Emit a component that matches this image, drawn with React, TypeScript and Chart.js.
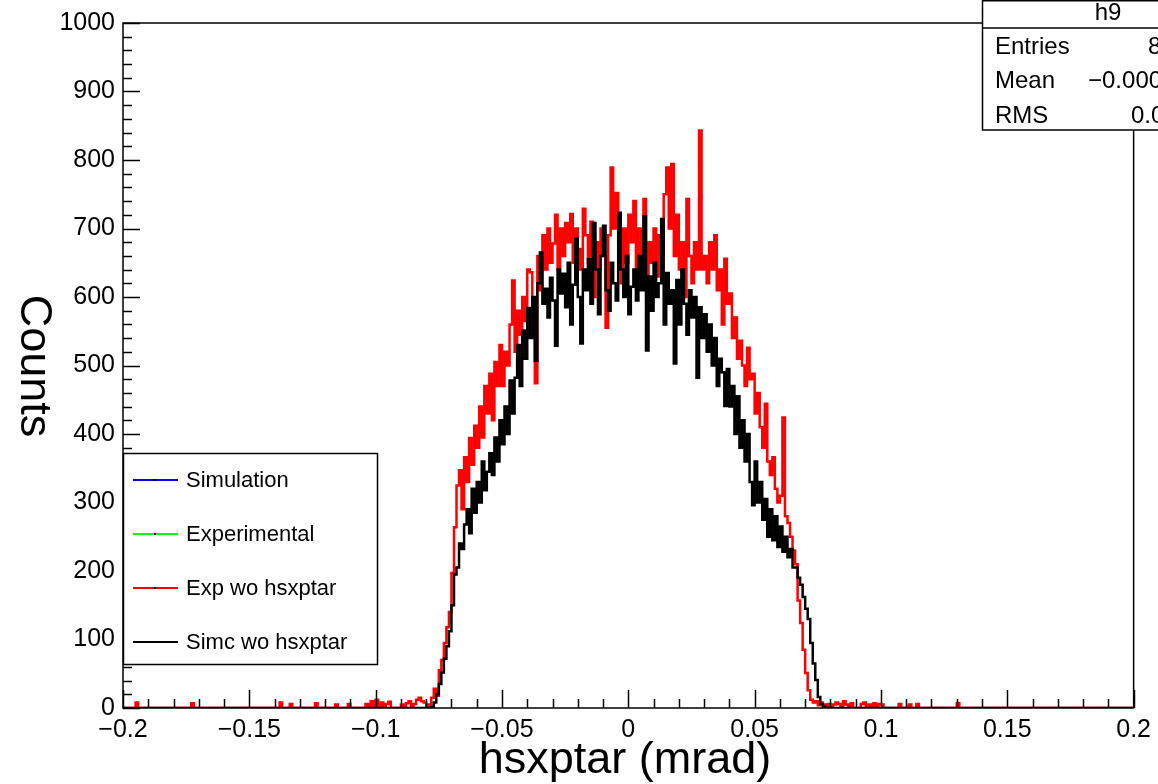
import React, { useEffect, useRef } from 'react';
import { Chart, registerables } from 'chart.js';

Chart.register(...registerables);

// ---- histogram binning ----
const binLow = -0.2;
const binWidth = 0.001;
const nBins = 400;
const coreStart = -0.08; // first bin of the core arrays below

// Simc wo hsxptar (black), bins from -0.080 to 0.082
const simcCore = [
  0, 0, 0, 2, 8, 20, 35, 52, 72, 90,
  112, 150, 195, 205, 240, 232, 268, 290, 255, 320,
  285, 330, 300, 360, 318, 345, 372, 340, 395, 360,
  420, 385, 440, 400, 478, 430, 482, 530, 470, 551,
  510, 584, 540, 600, 507, 620, 665, 590, 612, 570,
  628, 595, 529, 640, 605, 634, 585, 650, 560, 618,
  685, 600, 532, 640, 610, 655, 590, 708, 640, 575,
  660, 704, 610, 580, 650, 620, 595, 723, 640, 600,
  660, 575, 615, 640, 595, 660, 610, 718, 522, 630,
  580, 650, 600, 620, 714, 560, 635, 590, 610, 503,
  625, 560, 640, 590, 545, 610, 570, 600, 482, 585,
  540, 575, 520, 560, 500, 540, 470, 510, 490, 441,
  495, 440, 470, 400, 455, 380, 420, 360, 400, 330,
  296, 360, 300, 330, 275, 305, 250, 290, 245, 280,
  235, 265, 228, 250, 220, 232, 205, 205, 190, 180,
  162, 145, 130, 95, 65, 41, 16, 6, 2, 0,
  0, 0, 0,
];

// Exp wo hsxptar (red), bins from -0.080 to 0.082
const expCore = [
  8, 0, 5, 15, 28, 18, 55, 70, 95, 118,
  140, 197, 264, 325, 347, 290, 366, 330, 394, 355,
  412, 380, 440, 395, 470, 430, 488, 420, 505, 470,
  530, 470, 520, 500, 560, 624, 520, 580, 545, 600,
  565, 640, 636, 590, 474, 660, 610, 690, 640, 700,
  650, 678, 720, 640, 700, 660, 708, 680, 721, 650,
  700, 670, 640, 729, 690, 650, 710, 600, 680, 640,
  700, 660, 555, 690, 789, 700, 752, 680, 620, 700,
  650, 720, 680, 740, 640, 700, 660, 743, 610, 680,
  650, 700, 630, 690, 660, 750, 789, 700, 794, 660,
  720, 640, 680, 600, 743, 660, 620, 680, 640, 843,
  640, 660, 620, 680, 640, 690, 610, 640, 560, 656,
  590, 605, 540, 570, 510, 536, 500, 470, 526, 480,
  488, 430, 460, 410, 380, 444, 360, 340, 366, 320,
  300, 310, 424, 280, 270, 250, 230, 210, 157, 124,
  85, 51, 26, 12, 8, 10, 4, 8, 5, 3,
  6, 2, 5,
];

// isolated red entries outside the core (bin low edge, counts)
const expTailX = [
  -0.194, -0.172, -0.137, -0.133, -0.123, -0.115, -0.11, -0.103, -0.101, -0.099,
  -0.097, -0.095, -0.094, -0.089, -0.087, -0.086, -0.084, -0.083, -0.082, -0.081,
  0.083, 0.084, 0.086, 0.087, 0.089, 0.093, 0.094, 0.096, 0.098, 0.1,
  0.101, 0.108, 0.112, 0.115, 0.131,
];
const expTailY = [
  8, 7, 8, 6, 7, 5, 6, 6, 10, 12,
  8, 6, 9, 5, 7, 10, 6, 12, 15, 10,
  8, 6, 10, 5, 7, 6, 8, 5, 7, 6,
  5, 6, 5, 6, 7,
];

// ---- axes ----
const xTickValues = [-0.2, -0.15, -0.1, -0.05, 0, 0.05, 0.1, 0.15, 0.2];
const xTickLabels = ['\u22120.2', '\u22120.15', '\u22120.1', '\u22120.05', '0', '0.05', '0.1', '0.15', '0.2'];
const yTickValues = [0, 100, 200, 300, 400, 500, 600, 700, 800, 900, 1000];
const yTickLabels = ['0', '100', '200', '300', '400', '500', '600', '700', '800', '900', '1000'];
const xTitle = 'hsxptar (mrad)';
const yTitle = 'Counts';

// ---- legend & stats ----
const legendLabels = ['Simulation', 'Experimental', 'Exp wo hsxptar', 'Simc wo hsxptar'];
const legendColors = ['#0000ff', '#00ff00', '#ff0000', '#000000'];
const legendMarker = [true, true, true, false];
const statsTitle = 'h9';
const statsNames = ['Entries', 'Mean', 'RMS'];
const statsValues = ['84652', '\u22120.0003105', '0.03412'];

const FONT = '"Liberation Sans", Arial, Helvetica, sans-serif';

function buildCounts(core: number[], tailX: number[], tailY: number[]) {
  const counts: number[] = new Array(nBins).fill(0);
  tailX.forEach((x, i) => {
    counts[Math.round((x - binLow) / binWidth)] = tailY[i];
  });
  const off = Math.round((coreStart - binLow) / binWidth);
  core.forEach((c, j) => {
    counts[off + j] = c;
  });
  return counts;
}

function toSteps(counts: number[]) {
  const pts = counts.map((c, i) => ({ x: binLow + i * binWidth, y: c }));
  pts.push({ x: binLow + nBins * binWidth, y: counts[counts.length - 1] });
  return pts;
}

const rootPlugin = {
  id: 'rootDecor',
  afterDatasetsDraw(chart: any) {
    const ctx = chart.ctx as CanvasRenderingContext2D;
    const xs = chart.scales.x;
    const ys = chart.scales.y;
    const { left, right, top, bottom } = chart.chartArea;
    ctx.save();
    ctx.strokeStyle = '#000';
    ctx.lineWidth = 1.5;
    // x ticks (major every 0.05, minor every 0.01)
    for (let k = -20; k <= 20; k++) {
      const px = Math.round(xs.getPixelForValue(k / 100)) + 0.5;
      const len = k % 5 === 0 ? 18 : 9;
      ctx.beginPath();
      ctx.moveTo(px, bottom);
      ctx.lineTo(px, bottom - len);
      ctx.stroke();
    }
    // y ticks (major every 100, minor every 20)
    for (let k = 0; k <= 50; k++) {
      const py = Math.round(ys.getPixelForValue(k * 20)) + 0.5;
      const len = k % 5 === 0 ? 17 : 9;
      ctx.beginPath();
      ctx.moveTo(left, py);
      ctx.lineTo(left + len, py);
      ctx.stroke();
    }
    // frame
    ctx.lineWidth = 1.5;
    ctx.strokeRect(left, top, right - left, bottom - top);

    // legend box
    const lx0 = 123, ly0 = 453, lx1 = 377, ly1 = 664;
    ctx.fillStyle = '#fff';
    ctx.fillRect(lx0, ly0, lx1 - lx0, ly1 - ly0);
    ctx.lineWidth = 1.5;
    ctx.strokeStyle = '#000';
    ctx.strokeRect(lx0 + 0.5, ly0 + 0.5, lx1 - lx0, ly1 - ly0);
    ctx.font = `22px ${FONT}`;
    ctx.textBaseline = 'middle';
    ctx.textAlign = 'left';
    legendLabels.forEach((lab, i) => {
      const y = 480 + i * 54;
      ctx.strokeStyle = legendColors[i];
      ctx.lineWidth = 2;
      ctx.beginPath();
      ctx.moveTo(133, y);
      ctx.lineTo(178, y);
      ctx.stroke();
      if (legendMarker[i]) {
        ctx.fillStyle = '#000';
        ctx.fillRect(154, y - 1, 2, 2);
      }
      ctx.fillStyle = '#000';
      ctx.fillText(lab, 186, y + 1);
    });

    // stats box
    const sx0 = 982.5;
    ctx.fillStyle = '#fff';
    ctx.fillRect(sx0, 0, 1158 - sx0, 130);
    ctx.strokeStyle = '#000';
    ctx.lineWidth = 1.5;
    ctx.beginPath();
    ctx.moveTo(1160, 0.75);
    ctx.lineTo(sx0, 0.75);
    ctx.lineTo(sx0, 130);
    ctx.lineTo(1160, 130);
    ctx.moveTo(sx0, 28);
    ctx.lineTo(1160, 28);
    ctx.stroke();
    ctx.fillStyle = '#000';
    ctx.font = `24px ${FONT}`;
    ctx.textAlign = 'center';
    ctx.fillText(statsTitle, 1108, 13);
    ctx.textAlign = 'left';
    const valX = [1148, 1088, 1131];
    statsNames.forEach((n, i) => {
      const y = 47 + i * 34.5;
      ctx.fillText(n, 995, y);
      ctx.fillText(statsValues[i], valX[i], y);
    });

    // axis titles
    ctx.font = `45px ${FONT}`;
    ctx.textAlign = 'center';
    ctx.textBaseline = 'middle';
    ctx.fillText(xTitle, 625, 761);
    ctx.save();
    ctx.translate(33, 366);
    ctx.rotate(Math.PI / 2);
    ctx.fillText(yTitle, 0, 0);
    ctx.restore();
    ctx.restore();
  },
};

export default function App() {
  const ref = useRef<HTMLCanvasElement | null>(null);
  useEffect(() => {
    if (!ref.current) return;
    const simc = toSteps(buildCounts(simcCore, [], []));
    const exp = toSteps(buildCounts(expCore, expTailX, expTailY));
    const chart = new Chart(ref.current, {
      type: 'line',
      data: {
        datasets: [
          {
            label: 'Simc wo hsxptar',
            data: simc,
            borderColor: '#000000',
            borderWidth: 2.5,
            stepped: 'after',
            pointRadius: 0,
            fill: false,
            order: 0,
          },
          {
            label: 'Exp wo hsxptar',
            data: exp,
            borderColor: '#ff0000',
            borderWidth: 2.5,
            stepped: 'after',
            pointRadius: 0,
            fill: false,
            order: 1,
          },
        ],
      },
      options: {
        animation: false,
        responsive: false,
        devicePixelRatio: 1,
        layout: { padding: { left: 0, right: 24, top: 23, bottom: 0 } },
        plugins: { legend: { display: false }, tooltip: { enabled: false }, title: { display: false } },
        scales: {
          x: {
            type: 'linear',
            min: -0.2,
            max: 0.2,
            grid: { display: false, drawTicks: false },
            border: { display: false },
            afterBuildTicks: (s: any) => {
              s.ticks = xTickValues.map((v) => ({ value: v }));
            },
            afterFit: (s: any) => {
              s.height = 76;
            },
            ticks: {
              autoSkip: false,
              maxRotation: 0,
              minRotation: 0,
              padding: 7,
              color: '#000',
              font: { size: 25, family: FONT },
              callback: (_v: any, i: number) => xTickLabels[i],
            },
          },
          y: {
            type: 'linear',
            min: 0,
            max: 1000,
            grid: { display: false, drawTicks: false },
            border: { display: false },
            afterBuildTicks: (s: any) => {
              s.ticks = yTickValues.map((v) => ({ value: v }));
            },
            afterFit: (s: any) => {
              s.width = 123;
            },
            ticks: {
              autoSkip: false,
              padding: 8,
              color: '#000',
              font: { size: 25, family: FONT },
              callback: (_v: any, i: number) => yTickLabels[i],
            },
          },
        },
      },
      plugins: [rootPlugin],
    } as any);
    return () => chart.destroy();
  }, []);
  return (
    <div style={{ position: 'fixed', left: 0, top: 0, width: 1158, height: 784, background: '#fff' }}>
      <canvas ref={ref} width={1158} height={784} style={{ width: 1158, height: 784, display: 'block' }} />
    </div>
  );
}
